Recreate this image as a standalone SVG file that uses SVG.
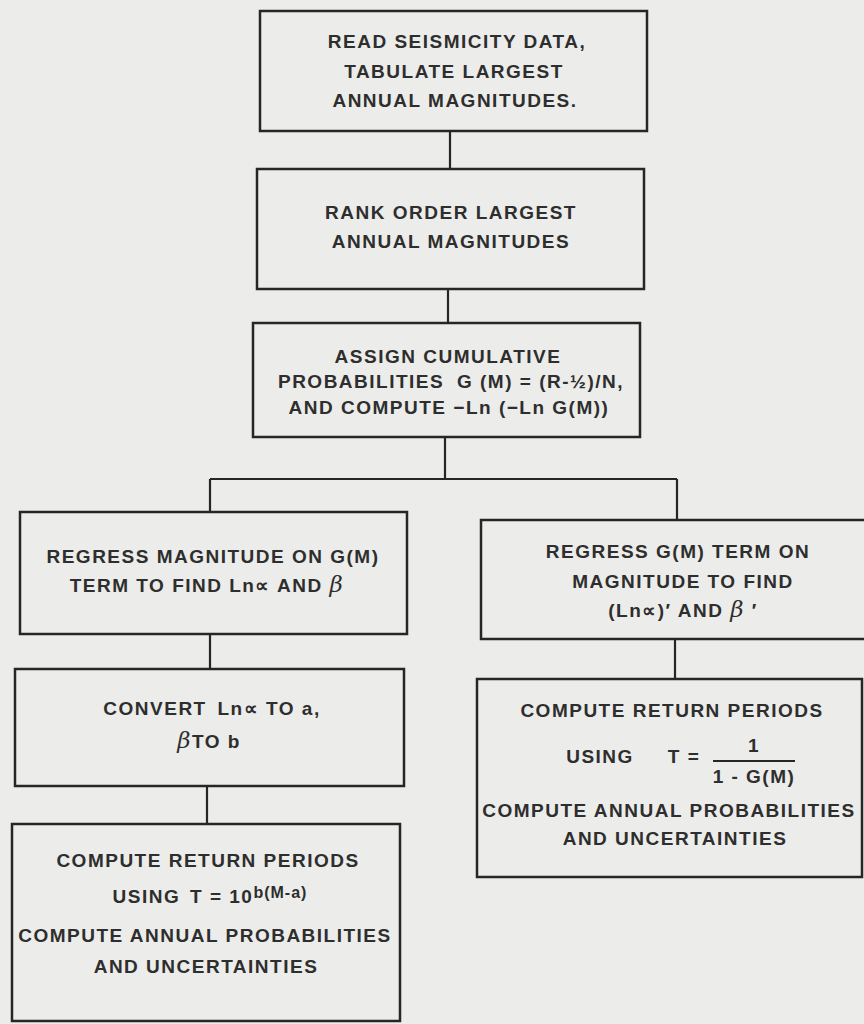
<svg xmlns="http://www.w3.org/2000/svg" width="864" height="1024" viewBox="0 0 864 1024">
<style>
.box{fill:none;stroke:#262626;stroke-width:2.5}
.con{fill:none;stroke:#262626;stroke-width:2.2}
text{font-family:"Liberation Sans",Arial,sans-serif;font-weight:bold;font-size:19px;letter-spacing:1.5px;fill:#2e2e2e;text-anchor:middle}
.gr{font-family:"DejaVu Serif","Liberation Serif",serif;font-style:italic;font-weight:normal}
.sup{font-size:16px;letter-spacing:1px}
</style>
<rect width="864" height="1024" fill="#ececea"/>
<g id="connectors">
<line class="con" x1="450" y1="131" x2="450" y2="169"/>
<line class="con" x1="448" y1="289" x2="448" y2="323"/>
<line class="con" x1="445" y1="437" x2="445" y2="479"/>
<line class="con" x1="210" y1="479" x2="677" y2="479"/>
<line class="con" x1="210" y1="479" x2="210" y2="512"/>
<line class="con" x1="677" y1="479" x2="677" y2="520"/>
<line class="con" x1="210" y1="634" x2="210" y2="669"/>
<line class="con" x1="207" y1="786" x2="207" y2="824"/>
<line class="con" x1="675" y1="639" x2="675" y2="679"/>
</g>
<g id="n1">
<rect class="box" x="260" y="11" width="387" height="120"/>
<text x="457" y="48">READ SEISMICITY DATA,</text>
<text x="454" y="78">TABULATE LARGEST</text>
<text x="455" y="107">ANNUAL MAGNITUDES.</text>
</g>
<g id="n2">
<rect class="box" x="257" y="169" width="387" height="120"/>
<text x="451" y="219">RANK ORDER LARGEST</text>
<text x="451" y="248">ANNUAL MAGNITUDES</text>
</g>
<g id="n3">
<rect class="box" x="253" y="323" width="387" height="114"/>
<text x="448" y="363">ASSIGN CUMULATIVE</text>
<text x="451" y="388">PROBABILITIES <tspan dx="6">G (M) = (R-½)/N,</tspan></text>
<text x="449" y="414">AND COMPUTE −Ln (−Ln G(M))</text>
</g>
<g id="n4">
<rect class="box" x="20" y="512" width="387" height="122"/>
<text x="213" y="563">REGRESS MAGNITUDE ON G(M)</text>
<text x="207" y="592">TERM TO FIND Ln∝ AND <tspan class="gr" font-size="23">β</tspan></text>
</g>
<g id="n5">
<rect class="box" x="481" y="520" width="386" height="119"/>
<text x="678" y="558">REGRESS G(M) TERM ON</text>
<text x="683" y="588">MAGNITUDE TO FIND</text>
<text x="683" y="617">(Ln∝)′ AND <tspan class="gr" font-size="23">β</tspan> ′</text>
</g>
<g id="n6">
<rect class="box" x="15" y="669" width="389" height="117"/>
<text x="212" y="715">CONVERT <tspan dx="4">Ln∝ TO a,</tspan></text>
<text x="209" y="748"><tspan class="gr" font-size="23">β</tspan>TO b</text>
</g>
<g id="n7">
<rect class="box" x="12" y="824" width="388" height="197"/>
<text x="208" y="867">COMPUTE RETURN PERIODS</text>
<text x="210" y="903">USING <tspan dx="3">T = 10</tspan><tspan class="sup" dy="-5">b(M-a)</tspan></text>
<text x="205" y="942">COMPUTE ANNUAL PROBABILITIES</text>
<text x="206" y="973">AND UNCERTAINTIES</text>
</g>
<g id="n8">
<rect class="box" x="477" y="679" width="385" height="198"/>
<text x="672" y="717">COMPUTE RETURN PERIODS</text>
<text x="600" y="763">USING</text>
<text x="684" y="763" letter-spacing="1">T =</text>
<text x="754" y="752">1</text>
<line class="con" x1="713" y1="761" x2="795" y2="761" stroke-width="1.8"/>
<text x="754" y="783" font-size="17" letter-spacing="1">1 - G(M)</text>
<text x="669" y="817">COMPUTE ANNUAL PROBABILITIES</text>
<text x="675" y="845">AND UNCERTAINTIES</text>
</g>
</svg>
